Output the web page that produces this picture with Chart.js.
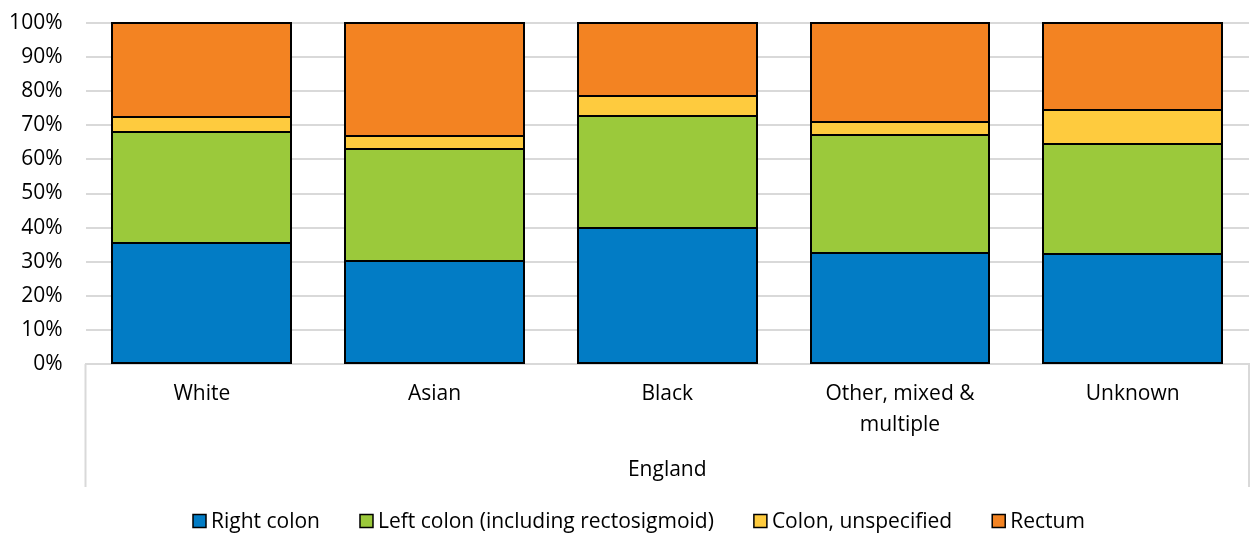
<!DOCTYPE html>
<html>
<head>
<meta charset="utf-8">
<script src="https://cdn.jsdelivr.net/npm/chart.js@4"></script>
<style>
  html, body { margin: 0; padding: 0; background: #fff; }
  #wrap { width: 1253px; height: 533px; }
</style>
</head>
<body>
<div id="wrap"><canvas id="c" width="1253" height="533"></canvas></div>
<script>
// Ethnic group categories (the second label wraps onto two lines)
const categories = ['White', 'Asian', 'Black', ['Other, mixed &', 'multiple'], 'Unknown'];
const groupLabel = 'England';

// Share of tumours by site, percent of each ethnic group
const rightColon       = [35.5, 30.3, 40.0, 32.5, 32.2];
const leftColon        = [32.4, 32.7, 32.6, 34.6, 32.4];
const colonUnspecified = [4.4, 3.9, 5.9, 3.9, 9.8];
const rectum           = [27.7, 33.1, 21.5, 29.0, 25.6];

const seriesNames = ['Right colon', 'Left colon (including rectosigmoid)', 'Colon, unspecified', 'Rectum'];
const seriesColors = ['#027cc5', '#9bc93b', '#fecb3e', '#f38322'];

const yTicks = [0, 10, 20, 30, 40, 50, 60, 70, 80, 90, 100];

const FONT = "'Open Sans', 'Noto Sans', sans-serif";
const FSIZE = 21;

const seriesData = [rightColon, leftColon, colonUnspecified, rectum];
const datasets = seriesData.map((d, i) => ({
  label: seriesNames[i],
  data: d,
  backgroundColor: seriesColors[i],
  borderWidth: 0,
  inflateAmount: 0,
  categoryPercentage: 1.0,
  barPercentage: 0.768
}));

// Crisp 2px outline around every stacked segment, taken from the bar elements
const segmentOutline = {
  id: 'segmentOutline',
  afterDatasetsDraw(chart) {
    const ctx = chart.ctx;
    ctx.save();
    ctx.strokeStyle = '#000';
    ctx.lineWidth = 2;
    chart.data.datasets.forEach((ds, di) => {
      chart.getDatasetMeta(di).data.forEach(bar => {
        const p = bar.getProps(['x', 'y', 'base', 'width'], true);
        const l = Math.round(p.x - p.width / 2);
        const r = Math.round(p.x + p.width / 2);
        const t = Math.round(Math.min(p.y, p.base));
        const b = Math.round(Math.max(p.y, p.base));
        ctx.strokeRect(l, t, r - l, b - t);
      });
    });
    ctx.restore();
  }
};

// Side rules framing the category axis box, like a grouped category axis
const axisFrame = {
  id: 'axisFrame',
  beforeDatasetsDraw(chart) {
    const x = chart.scales.x;
    const ctx = chart.ctx;
    ctx.save();
    ctx.strokeStyle = '#d9d9d9';
    ctx.lineWidth = 2;
    ctx.beginPath();
    ctx.moveTo(x.left, x.top);
    ctx.lineTo(x.left, x.bottom);
    ctx.moveTo(x.right, x.top);
    ctx.lineTo(x.right, x.bottom);
    ctx.stroke();
    ctx.restore();
  }
};

// Legend row drawn under the axis box
const bottomLegend = {
  id: 'bottomLegend',
  afterDraw(chart) {
    const ctx = chart.ctx;
    const box = 13, gapText = 5, gapItem = 40;
    const yc = 521, xc = 639;
    ctx.save();
    ctx.font = FSIZE + 'px ' + FONT;
    ctx.textBaseline = 'middle';
    ctx.textAlign = 'left';
    const items = chart.data.datasets.map(ds => ({
      label: ds.label, color: ds.backgroundColor, w: ctx.measureText(ds.label).width
    }));
    const total = items.reduce((s, it) => s + box + gapText + it.w, 0) + gapItem * (items.length - 1);
    let x = Math.round(xc - total / 2);
    items.forEach(it => {
      ctx.fillStyle = it.color;
      ctx.fillRect(x, yc - box / 2, box, box);
      ctx.strokeStyle = '#000';
      ctx.lineWidth = 1.5;
      ctx.strokeRect(x, yc - box / 2, box, box);
      ctx.fillStyle = '#000';
      ctx.fillText(it.label, x + box + gapText, yc + 1);
      x += box + gapText + it.w + gapItem;
    });
    ctx.restore();
  }
};

new Chart(document.getElementById('c'), {
  type: 'bar',
  data: { labels: categories, datasets },
  plugins: [axisFrame, segmentOutline, bottomLegend],
  options: {
    responsive: false,
    animation: false,
    devicePixelRatio: 1,
    layout: { padding: { top: 23, right: 4, bottom: 46, left: 0 } },
    plugins: {
      legend: { display: false },
      tooltip: { enabled: false }
    },
    scales: {
      x: {
        stacked: true,
        grid: { display: false, drawTicks: false },
        border: { display: true, color: '#d9d9d9', width: 2 },
        ticks: {
          color: '#000',
          padding: 14,
          maxRotation: 0,
          autoSkip: false,
          font: { family: FONT, size: FSIZE, lineHeight: 1.5 }
        },
        title: {
          display: true,
          text: groupLabel,
          color: '#000',
          font: { family: FONT, size: FSIZE, lineHeight: 1.2 },
          padding: { top: 0, bottom: 4 }
        },
        afterFit(scale) {
          scale.height = 123;
          scale.paddingLeft = 0;
          scale.paddingRight = 0;
        }
      },
      y: {
        stacked: true,
        min: 0,
        max: 100,
        afterBuildTicks(scale) { scale.ticks = yTicks.map(v => ({ value: v })); },
        grid: { color: '#d9d9d9', lineWidth: 2, drawTicks: false },
        border: { display: false },
        ticks: {
          color: '#000',
          padding: 23,
          font: { family: FONT, size: FSIZE },
          callback: v => v + '%'
        },
        afterFit(scale) {
          scale.width = 85.5;
          scale.paddingTop = 0;
          scale.paddingBottom = 0;
        }
      }
    }
  }
});
</script>
</body>
</html>
